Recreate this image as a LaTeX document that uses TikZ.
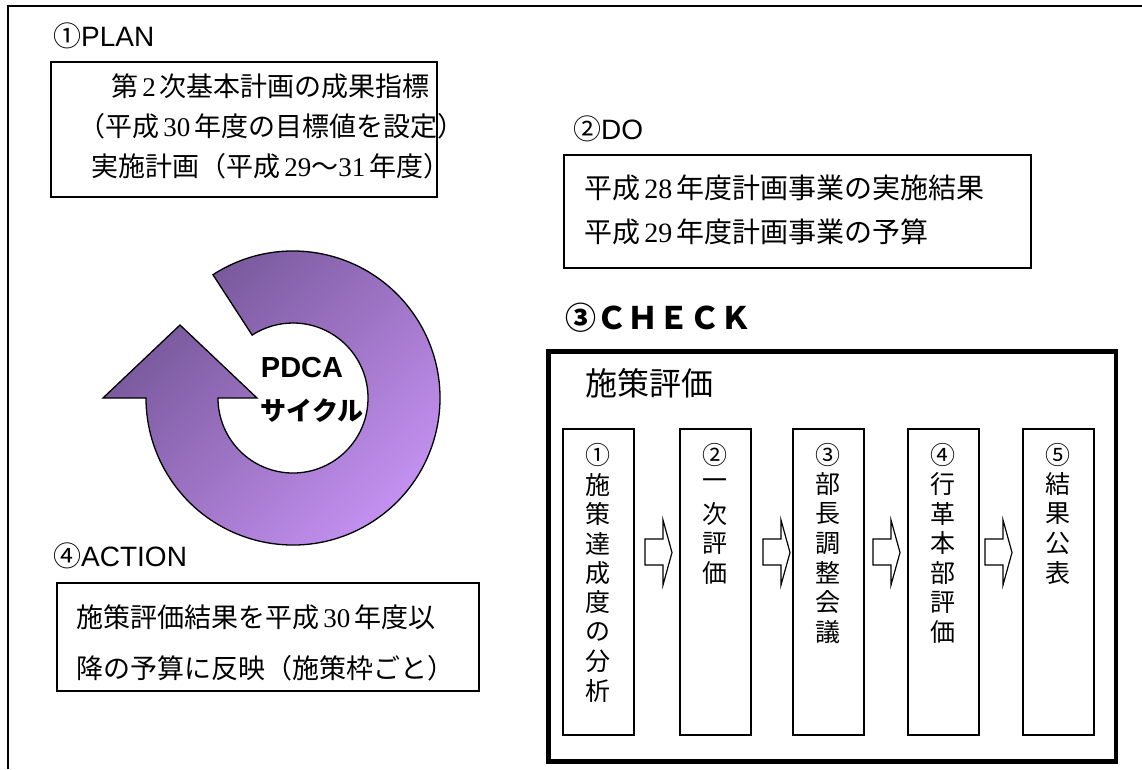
\documentclass[tikz,border=0pt]{standalone}
\usepackage{fontspec}
\setmainfont{Noto Sans CJK JP}
\newfontfamily\jp{Noto Sans CJK JP}
\newfontfamily\lat{Liberation Sans}
\newfontfamily\ser{Liberation Serif}
\newcommand\dg[1]{\hspace{0.15em}{\ser #1}\hspace{0.15em}}
\usetikzlibrary{calc}
\definecolor{pdark}{RGB}{112,82,146}
\definecolor{plight}{RGB}{200,148,245}
\begin{document}
\begin{tikzpicture}[x=1pt,y=1pt,
  box/.style={draw, line width=1.8pt, inner sep=0pt, anchor=north west},
  vbox/.style={draw, line width=1.5pt, inner sep=0pt, anchor=north west, minimum width=71pt, minimum height=306pt},
  head/.style={anchor=base west, inner sep=0pt, font=\fontsize{28}{30}\selectfont},
  body/.style={anchor=west, inner sep=0pt, font=\jp\fontsize{27}{30}\selectfont},
  vch/.style={inner sep=0pt, font=\jp\fontsize{25}{28}\selectfont},
  barrow/.style={draw, line width=1.2pt, fill=white},
  cycle arrow/.style={draw, line width=1.3pt, top color=pdark, bottom color=plight, shading angle=45}]
\useasboundingbox (0,0) rectangle (1142,-769);
% outer frame
\draw[line width=2pt] (8,-769) -- (8,-6) -- (1142,-6);
% headings
\node[head] (hplan) at (53,-46) {{\jp ①}{\lat PLAN}};
\node[head] (hdo) at (573,-139) {{\jp ②}{\lat DO}};
\node[head] (hact) at (53,-566) {{\jp ④}{\lat ACTION}};
\node[head, font=\jp\bfseries\fontsize{31}{34}\selectfont] (hchk) at (565,-329) {③ＣＨＥＣＫ};
% PLAN
\node[box, minimum width=386pt, minimum height=135pt] (plan) at (50,-61) {};
\node[body] (p1) at (111,-86) {第\dg{2}次基本計画の成果指標};
\node[body] (p2) at (78,-126) {（平成\dg{30}年度の目標値を設定）};
\node[body] (p3) at (91,-166) {実施計画（平成\hspace{0.15em}{\ser 29}〜{\ser 31}\hspace{0.15em}年度）};
% DO
\node[box, minimum width=467pt, minimum height=113pt] (do) at (563,-154) {};
\node[body, font=\jp\fontsize{28}{30}\selectfont] (d1) at (584,-188) {平成\dg{28}年度計画事業の実施結果};
\node[body, font=\jp\fontsize{28}{30}\selectfont] (d2) at (584,-232) {平成\dg{29}年度計画事業の予算};
% ACTION
\node[box, minimum width=422pt, minimum height=108pt] (act) at (56,-582) {};
\node[body] (a1) at (76,-617) {施策評価結果を平成\dg{30}年度以};
\node[body] (a2) at (76,-668) {降の予算に反映（施策枠ごと）};
% CHECK frame
\node[draw, line width=4.5pt, inner sep=0pt, anchor=north west, minimum width=567.5pt, minimum height=410pt] (chk) at (546,-349) {};
\node[body, font=\jp\fontsize{32}{34}\selectfont] (sk) at (585,-383) {施策評価};
% vertical boxes
\node[vbox] (v1) at (562,-428) {};
\node[vbox] (v2) at (679,-428) {};
\node[vbox] (v3) at (792,-428) {};
\node[vbox] (v4) at (907,-428) {};
\node[vbox] (v5) at (1022,-428) {};
\foreach \c [count=\i] in {①,施,策,達,成,度,の,分,析}
  \node[vch] (v1c\i) at ($(v1.north)+(0,-27-29.5*\i+29.5)$) {\c};
\foreach \c [count=\i] in {②,一,次,評,価}
  \node[vch] (v2c\i) at ($(v2.north)+(0,-27-29.5*\i+29.5)$) {\c};
\foreach \c [count=\i] in {③,部,長,調,整,会,議}
  \node[vch] (v3c\i) at ($(v3.north)+(0,-27-29.5*\i+29.5)$) {\c};
\foreach \c [count=\i] in {④,行,革,本,部,評,価}
  \node[vch] (v4c\i) at ($(v4.north)+(0,-27-29.5*\i+29.5)$) {\c};
\foreach \c [count=\i] in {⑤,結,果,公,表}
  \node[vch] (v5c\i) at ($(v5.north)+(0,-27-29.5*\i+29.5)$) {\c};
% block arrows between boxes
\foreach \x in {645,763,873,985}
  \draw[barrow] (\x,-539) -- (\x+18,-539) -- (\x+18,-520) -- (\x+27,-552.5)
    -- (\x+18,-585) -- (\x+18,-565) -- (\x,-565) -- cycle;
% PDCA cycle arrow
\coordinate (cc) at (293,-398);
\draw[cycle arrow]
  ($(cc)+(123:147)$) arc[start angle=123, end angle=-180, radius=147]
  -- (103,-398) -- (180,-325) -- (257,-398) -- ($(cc)+(180:75)$)
  arc[start angle=-180, end angle=123, radius=75] -- cycle;
\node[inner sep=0pt, anchor=base, font=\lat\bfseries\fontsize{29}{30}\selectfont] (pdca) at (302,-377) {PDCA};
\node[inner sep=0pt, font=\jp\bfseries\fontsize{26}{28}\selectfont] (cyc) at (312,-411) {サイクル};
\end{tikzpicture}
\end{document}
